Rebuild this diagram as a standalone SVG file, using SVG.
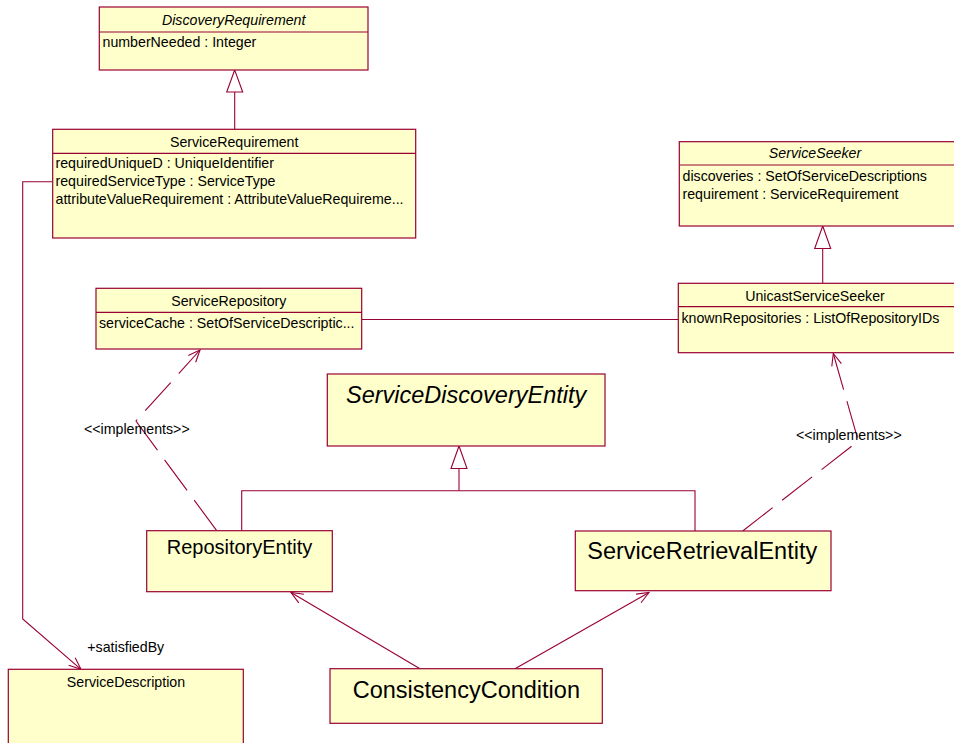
<svg xmlns="http://www.w3.org/2000/svg" width="954" height="743" viewBox="0 0 954 743">
<style>
.box{fill:#FFFFCC;stroke:#990033;stroke-width:1.2}
.sep{stroke:#990033;stroke-width:1.2}
.ln{fill:none;stroke:#990033;stroke-width:1.1}
.dash{fill:none;stroke:#990033;stroke-width:1.1;stroke-dasharray:38 12}
.tri{fill:#FFFFFF;stroke:#990033;stroke-width:1.1}
text{font-family:"Liberation Sans",Arial,sans-serif;fill:#000}
.s{font-size:14.2px}
.c{text-anchor:middle}
.i{font-style:italic}
.b{font-size:20px}
.L{font-size:23.5px}
</style>
<defs>
<marker id="open" markerWidth="14" markerHeight="12" refX="13" refY="6" orient="auto" markerUnits="userSpaceOnUse">
<path d="M1,1 L13,6 L1,11" fill="none" stroke="#990033" stroke-width="1.1"/>
</marker>
</defs>
<g id="connectors">
<polygon class="tri" points="234.7,70 226.7,92 242.7,92"/>
<line class="ln" x1="234.7" y1="92" x2="234.7" y2="129.3"/>
<polygon class="tri" points="822.7,226 814.7,248.5 830.7,248.5"/>
<line class="ln" x1="822.7" y1="248.5" x2="822.7" y2="283.3"/>
<polygon class="tri" points="459,446 451,468.5 467,468.5"/>
<polyline class="ln" points="459,468.5 459,490.7"/>
<polyline class="ln" points="241.7,530.7 241.7,490.7 695,490.7 695,531"/>
<line class="ln" x1="361.7" y1="319.5" x2="678.3" y2="319.5"/>
<polyline class="ln" points="52.7,181.7 22.7,181.7 22.7,619 81,669.3" marker-end="url(#open)"/>
<polyline class="dash" points="216.7,530.7 136,421 200,350" marker-end="url(#open)"/>
<polyline class="dash" points="742.7,531 858.3,441 833.3,353.5" marker-end="url(#open)"/>
<line class="ln" x1="420" y1="668.7" x2="291" y2="592.5" marker-end="url(#open)"/>
<line class="ln" x1="515" y1="668.7" x2="649" y2="592.5" marker-end="url(#open)"/>
<text class="s" x="84" y="434.3">&lt;&lt;implements&gt;&gt;</text>
<text class="s" x="796" y="440">&lt;&lt;implements&gt;&gt;</text>
<text class="s" x="87.3" y="652.3">+satisfiedBy</text>
</g>
<g id="DiscoveryRequirement">
<rect class="box" x="99.3" y="7" width="268.7" height="63"/>
<line class="sep" x1="99.3" y1="32" x2="368" y2="32"/>
<text class="s c i" x="233.7" y="24.5">DiscoveryRequirement</text>
<text class="s" x="102.5" y="46.5">numberNeeded : Integer</text>
</g>
<g id="ServiceRequirement">
<rect class="box" x="52.7" y="129.3" width="363" height="108.7"/>
<line class="sep" x1="52.7" y1="153.3" x2="415.7" y2="153.3"/>
<text class="s c" x="234.2" y="146.5">ServiceRequirement</text>
<text class="s" x="55.5" y="167.5">requiredUniqueD : UniqueIdentifier</text>
<text class="s" x="55.5" y="185.8">requiredServiceType : ServiceType</text>
<text class="s" x="55.5" y="204">attributeValueRequirement : AttributeValueRequireme...</text>
</g>
<g id="ServiceSeeker">
<rect class="box" x="679.3" y="141.7" width="290" height="84.3"/>
<line class="sep" x1="679.3" y1="165" x2="969" y2="165"/>
<text class="s c i" x="815" y="158">ServiceSeeker</text>
<text class="s" x="682.5" y="180.5">discoveries : SetOfServiceDescriptions</text>
<text class="s" x="682.5" y="198.5">requirement : ServiceRequirement</text>
</g>
<g id="UnicastServiceSeeker">
<rect class="box" x="678.3" y="283.3" width="290" height="69.4"/>
<line class="sep" x1="678.3" y1="306.7" x2="969" y2="306.7"/>
<text class="s c" x="815" y="300.5">UnicastServiceSeeker</text>
<text class="s" x="681.5" y="322.5">knownRepositories : ListOfRepositoryIDs</text>
</g>
<g id="ServiceRepository">
<rect class="box" x="96" y="288.3" width="265.7" height="60.7"/>
<line class="sep" x1="96" y1="312.3" x2="361.7" y2="312.3"/>
<text class="s c" x="228.8" y="305.8">ServiceRepository</text>
<text class="s" x="99" y="327.7">serviceCache : SetOfServiceDescriptic...</text>
</g>
<g id="ServiceDiscoveryEntity">
<rect class="box" x="327.3" y="374" width="277.7" height="72"/>
<text class="L i" x="346" y="402.7">ServiceDiscoveryEntity</text>
</g>
<g id="RepositoryEntity">
<rect class="box" x="146.7" y="530.7" width="185.6" height="61"/>
<text class="b" x="166.7" y="553.5">RepositoryEntity</text>
</g>
<g id="ServiceRetrievalEntity">
<rect class="box" x="575.3" y="531" width="255.7" height="59.7"/>
<text class="L" x="587.3" y="559">ServiceRetrievalEntity</text>
</g>
<g id="ServiceDescription">
<rect class="box" x="8.3" y="669.3" width="235" height="90"/>
<text class="s c" x="126" y="686.7">ServiceDescription</text>
</g>
<g id="ConsistencyCondition">
<rect class="box" x="330" y="668.7" width="272.3" height="54.6"/>
<text class="L" x="352.7" y="697.5">ConsistencyCondition</text>
</g>
</svg>
